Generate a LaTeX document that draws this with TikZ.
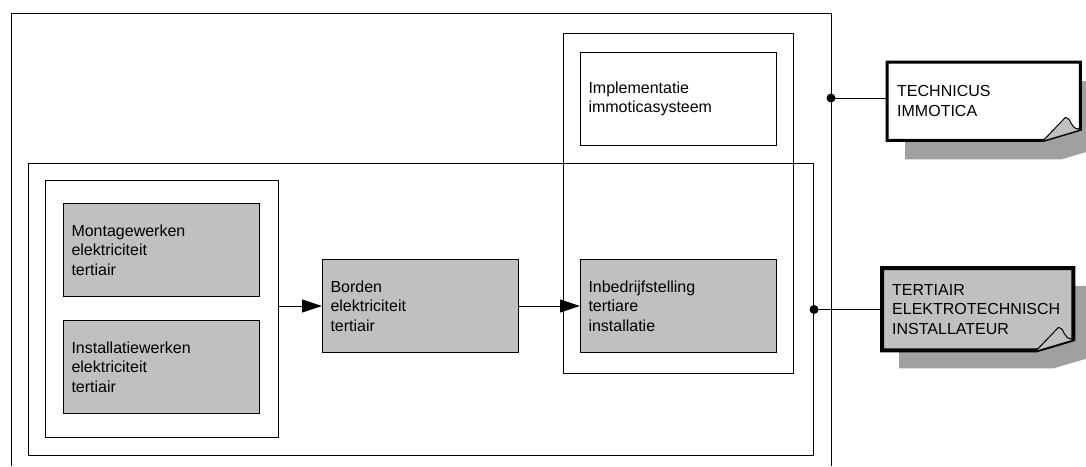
\documentclass[tikz,border=0pt]{standalone}
\usepackage{fontspec}
\setmainfont{Liberation Sans}
\usetikzlibrary{arrows.meta,backgrounds}
\definecolor{taskgray}{HTML}{C0C0C0}
\definecolor{shadowgray}{HTML}{A0A0A0}
\tikzset{
  task/.style={draw, line width=1pt, fill=taskgray, text width=180pt, inner xsep=8pt,
    inner ysep=0pt, minimum height=93pt, align=left, anchor=north west},
  frame/.style={draw, line width=1pt, inner sep=0pt, anchor=north west},
  flow/.style={-{Triangle[length=20pt,width=13pt]}, line width=1pt},
  role/.style={inner xsep=10pt, inner ysep=0pt, align=left, anchor=north west},
  link/.style={line width=1pt},
}
% note outline, shifted by #2/#3 (shadow), drawn with options #4
\newcommand{\noteoutline}[4]{%
  \path[#4] ([xshift=#2,yshift=#3]#1.north west) -- ([xshift=#2,yshift=#3]#1.north east)
    -- ([xshift=#2,yshift=#3+11pt]#1.south east) -- ([xshift=#2-37pt,yshift=#3]#1.south east)
    -- ([xshift=#2,yshift=#3]#1.south west) -- cycle;}
% dog-ear of a note
\newcommand{\noteflap}[2]{%
  \draw[line width=1pt, fill=#2, line join=round] ([xshift=-37pt]#1.south east)
    -- ([xshift=-15pt,yshift=23pt]#1.south east)
    .. controls ([xshift=-7pt,yshift=21pt]#1.south east) and ([xshift=-12pt,yshift=12pt]#1.south east)
    .. ([yshift=11pt]#1.south east);}
\begin{document}
\begin{tikzpicture}[x=1pt, y=-1pt, font=\fontsize{16}{19.5}\selectfont]
\useasboundingbox (0,0) rectangle (1086,466);

%% --- frames ---
\draw[link] (11,466) -- (11,13) -- (831,13) -- (831,466);
\node[frame, minimum width=785pt, minimum height=292pt] (inner) at (28,163) {};
\node[frame, minimum width=233pt, minimum height=257pt] (works) at (45,180) {};
\node[frame, minimum width=230pt, minimum height=340pt] (column) at (563,33) {};

%% --- tasks ---
\node[task] (montage) at (63,203) {Montagewerken\\elektriciteit\\tertiair};
\node[task] (install) at (63,320) {Installatiewerken\\elektriciteit\\tertiair};
\node[task] (borden) at (322,259) {Borden\\elektriciteit\\tertiair};
\node[task] (inbedrijf) at (580,259) {Inbedrijfstelling\\tertiare\\installatie};
\node[task, fill=white] (implement) at (580,52) {Implementatie\\immoticasysteem};

%% --- flow ---
\draw[flow] (borden.west -| works.east) -- (borden.west);
\draw[flow] (borden.east) -- (inbedrijf.west);

%% --- roles ---
\node[role, text width=173pt, minimum height=78pt] (technicus) at (887,62) {TECHNICUS\\IMMOTICA};
\node[role, text width=171pt, minimum height=82pt] (tertiair) at (882,268) {TERTIAIR\\ELEKTROTECHNISCH\\INSTALLATEUR};
\begin{scope}[on background layer]
  \noteoutline{technicus}{18pt}{-19pt}{fill=shadowgray}
  \noteoutline{technicus}{0pt}{0pt}{draw, fill=white, line width=3pt}
  \noteflap{technicus}{taskgray}
  \noteoutline{tertiair}{17pt}{-18pt}{fill=shadowgray}
  \noteoutline{tertiair}{0pt}{0pt}{draw, fill=taskgray, line width=4pt}
  \noteflap{tertiair}{taskgray}
\end{scope}

%% --- links ---
\coordinate (techdot) at (831,98);
\fill (techdot) circle (4.5pt);
\draw[link] (techdot) -- (techdot -| technicus.west);
\fill (inner.east) circle (4.5pt);
\draw[link] (inner.east) -- (inner.east -| tertiair.west);
\end{tikzpicture}
\end{document}
